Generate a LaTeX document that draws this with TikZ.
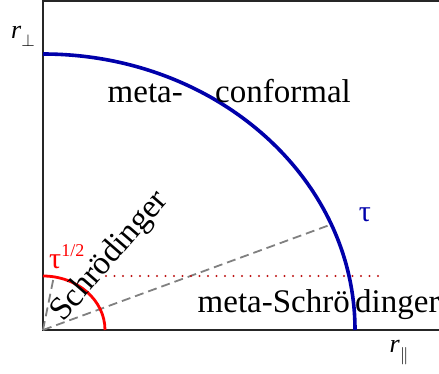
\documentclass[tikz,border=0pt]{standalone}
\usepackage{fontspec}
\setmainfont{Liberation Serif}
\usetikzlibrary{calc}
\begin{document}
\begin{tikzpicture}[x=1pt,y=1pt,
  bigtxt/.style={inner sep=0pt,font=\fontsize{33}{38}\selectfont},
  lbl/.style={inner sep=0pt,font=\fontsize{26}{30}\selectfont},
  axis/.style={line width=1.6pt,black!85},
  bluearc/.style={line width=3.6pt,color={rgb,255:red,0;green,0;blue,170}},
  redarc/.style={line width=2.8pt,red},
  guide/.style={line width=1.8pt,gray,dash pattern=on 9pt off 5pt},
  reddot/.style={line width=2.4pt,line cap=round,color={rgb,255:red,190;green,20;blue,20},dash pattern=on 0pt off 8.5pt}]
\useasboundingbox (0,0) rectangle (439,373);
\coordinate (O) at (43,43);
\coordinate (Ytop) at (43,373);
\coordinate (TL) at (43,372);
\coordinate (TR) at (439,372);
\coordinate (Xend) at (439,43);
\coordinate (B0) at (355,43);
\coordinate (R0) at (105,43);
\coordinate (Bcut) at ($(O)+(288.3,105.6)$);
\coordinate (Rcut) at ($(O)+(10.8,53.2)$);
\coordinate (D1) at (106,97);
\coordinate (D2) at (380,97);
% axes
\draw[axis] (Ytop) -- (O) -- (Xend);
\draw[axis] (TL) -- (TR);
% guides
\draw[guide] (O) -- (Bcut);
\draw[guide] (O) -- (Rcut);
\draw[reddot] (D1) -- (D2);
% arcs
\draw[bluearc] (B0) arc[start angle=0,end angle=90,x radius=312,y radius=276];
\draw[redarc] (R0) arc[start angle=0,end angle=90,x radius=62,y radius=54];
% texts
\node[bigtxt,anchor=base east] (m1) at (183,271) {meta-};
\node[bigtxt,anchor=base west] (c1) at (215,271) {conformal};
\node[bigtxt,anchor=base east] (m2) at (350,61) {meta-Schrö};
\node[bigtxt,anchor=base west] (d2) at (355,61) {dinger};
\node[bigtxt,anchor=base,rotate=49] (s1) at (116,111) {Schrödinger};
\node[lbl,color={rgb,255:red,0;green,0;blue,170},font=\fontsize{30}{34}\selectfont] (tau) at (365,158) {τ};
\node[lbl,red,anchor=base west,font=\fontsize{30}{34}\selectfont] (tauh) at (49,105) {τ\raisebox{12pt}{\fontsize{18}{18}\selectfont 1/2}};
\node[lbl] (rp) at (23,337) {\textit{r}\raisebox{-8pt}{\fontsize{17}{17}\selectfont$\perp$}};
\node[lbl] (rl) at (399,20) {\textit{r}\raisebox{-8pt}{\fontsize{17}{17}\selectfont$\|$}};
\end{tikzpicture}
\end{document}
